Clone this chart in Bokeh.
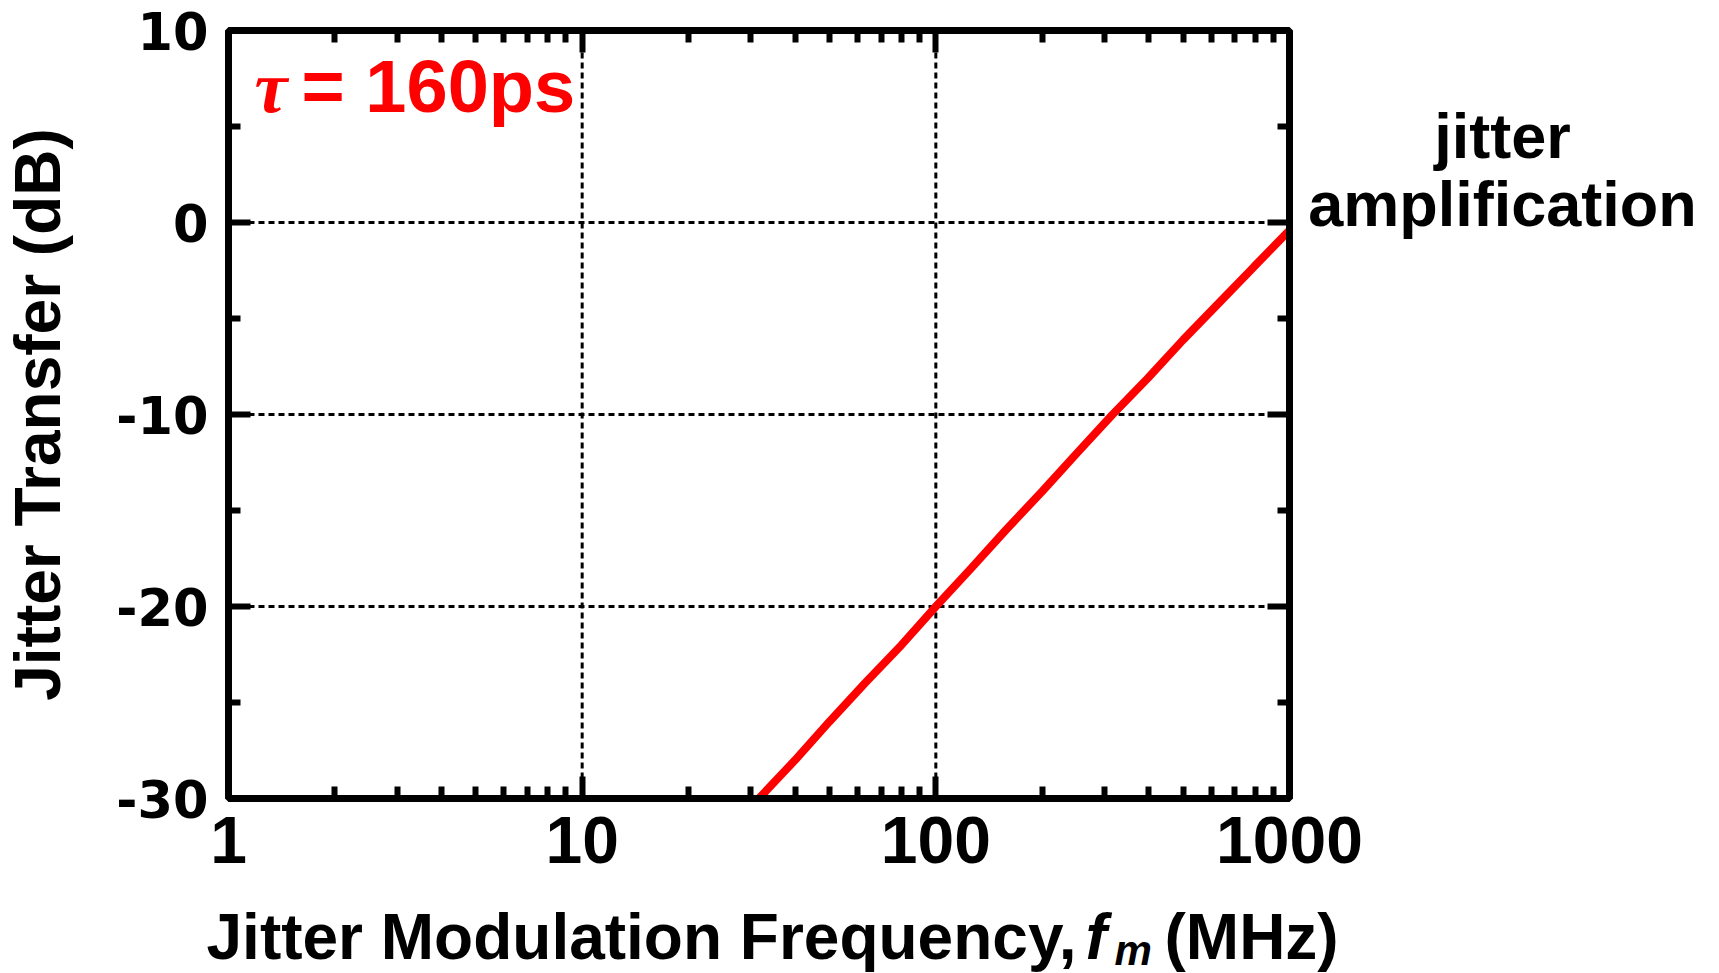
from bokeh.plotting import figure
from bokeh.models import (LogAxis, LinearAxis, FixedTicker, Label, Range1d,
                          PrintfTickFormatter, BoxAnnotation)
from bokeh.embed import file_html
from bokeh.resources import INLINE

# ---- data ----
freq_mhz = [31.6, 40, 50, 63, 80, 100, 126, 158, 200, 251, 316, 398, 501, 631, 794, 1000]
transfer_db = [-30.0, -28.0, -26.0, -24.0, -22.0, -20.0, -18.0, -16.0, -14.0, -12.0,
               -10.0, -8.1, -6.1, -4.2, -2.3, -0.4]

x_limits = [1, 1000]
y_limits = [-30, 10]
x_major_ticks = [1, 10, 100, 1000]
x_minor_ticks = [m * d for d in (1, 10, 100) for m in range(2, 10)]
y_major_ticks = [-30, -20, -10, 0, 10]
y_minor_ticks = [-25, -15, -5, 5]
x_grid_ticks = [10, 100]
y_grid_ticks = [-20, -10, 0]

tau_label = "= 160ps"
x_title_main = "Jitter Modulation Frequency,"
x_title_sym = "f"
x_title_sub = "m"
x_title_unit = "(MHz)"
y_title = "Jitter Transfer (dB)"
side_note = ["jitter", "amplification"]

# ---- layout: the drawing area fills the whole canvas; the visible box
# (x 1..1000, y -30..10) sits at these page pixels ----
W, H = 1716, 972
BL, BR, BT, BB = 228, 1289, 30, 798
PX_DEC = (BR - BL) / 3.0
PX_DB = (BB - BT) / 40.0

def dx(px):
    return 10 ** ((px - BL) / PX_DEC)

def dy(py):
    return 10 - (py - BT) / PX_DB

p = figure(width=W, height=H, x_axis_type="log",
           x_range=Range1d(dx(0), dx(W)), y_range=Range1d(dy(H), dy(0)),
           output_backend="svg", toolbar_location=None,
           min_border=0, min_border_left=0, min_border_right=0,
           min_border_top=0, min_border_bottom=0,
           background_fill_color="white", border_fill_color="white")
p.outline_line_color = None
p.grid.visible = False

def style_axis(ax):
    ax.axis_line_color = None
    ax.major_tick_in = 22
    ax.major_tick_out = 0
    ax.minor_tick_in = 12
    ax.minor_tick_out = 0
    ax.major_tick_line_width = 6
    ax.minor_tick_line_width = 6
    ax.major_tick_line_color = "black"
    ax.minor_tick_line_color = "black"

xa = p.xaxis[0]
xa.ticker = FixedTicker(ticks=x_major_ticks, minor_ticks=x_minor_ticks)
xa.formatter = PrintfTickFormatter(format="%d")
xa.fixed_location = y_limits[0]
xa.bounds = tuple(x_limits)
style_axis(xa)
xa.major_label_text_font = "Liberation Sans"
xa.major_label_text_font_style = "bold"
xa.major_label_text_font_size = "66px"
xa.major_label_text_color = "black"
xa.major_label_standoff = 18

ya = p.yaxis[0]
ya.ticker = FixedTicker(ticks=y_major_ticks, minor_ticks=y_minor_ticks)
ya.formatter = PrintfTickFormatter(format="%d")
ya.fixed_location = x_limits[0]
ya.bounds = tuple(y_limits)
style_axis(ya)
ya.major_label_text_font = "DejaVu Sans"
ya.major_label_text_font_style = "bold"
ya.major_label_text_font_size = "51px"
ya.major_label_text_color = "black"
ya.major_label_standoff = 20
ya.axis_label = y_title
ya.axis_label_text_font = "Liberation Sans"
ya.axis_label_text_font_style = "bold"
ya.axis_label_text_font_size = "64px"
ya.axis_label_text_color = "black"
ya.axis_label_standoff = 39

top = LogAxis(ticker=FixedTicker(ticks=x_major_ticks, minor_ticks=x_minor_ticks),
              fixed_location=y_limits[1], bounds=tuple(x_limits))
style_axis(top)
top.major_label_text_font_size = "1px"
top.major_label_text_color = None
top.major_label_standoff = 0
p.add_layout(top, "above")

right = LinearAxis(ticker=FixedTicker(ticks=y_major_ticks, minor_ticks=y_minor_ticks),
                   fixed_location=x_limits[1], bounds=tuple(y_limits))
style_axis(right)
right.major_label_text_font_size = "1px"
right.major_label_text_color = None
right.major_label_standoff = 0
p.add_layout(right, "right")

# dotted grid lines inside the box
p.segment(x0=x_grid_ticks, y0=[y_limits[0]] * len(x_grid_ticks),
          x1=x_grid_ticks, y1=[y_limits[1]] * len(x_grid_ticks),
          line_color="black", line_width=3, line_dash="6 4")
p.segment(x0=[x_limits[0]] * len(y_grid_ticks), y0=y_grid_ticks,
          x1=[x_limits[1]] * len(y_grid_ticks), y1=y_grid_ticks,
          line_color="black", line_width=3, line_dash="6 4")

p.line(freq_mhz, transfer_db, line_color="#ff0000", line_width=8)

# plot box
p.add_layout(BoxAnnotation(left=x_limits[0], right=x_limits[1],
                           bottom=y_limits[0], top=y_limits[1],
                           fill_color=None, fill_alpha=0,
                           line_color="black", line_width=7, line_alpha=1.0))

# tau annotation
p.add_layout(Label(x=1.184, y=7.08, text="τ", text_font="Liberation Serif",
                   text_font_style="bold italic", text_font_size="74px",
                   text_color="#ff0000", text_baseline="alphabetic"))
p.add_layout(Label(x=1.609, y=7.08, text=tau_label, text_font="Liberation Sans",
                   text_font_style="bold", text_font_size="74px",
                   text_color="#ff0000", text_baseline="alphabetic"))

def txt(px, py, text, size, style="bold", align="left"):
    p.add_layout(Label(x=dx(px), y=dy(py), text=text, text_font="Liberation Sans",
                       text_font_style=style, text_font_size=size,
                       text_color="black", text_align=align,
                       text_baseline="alphabetic"))

# right-side note
txt(1502, 135, side_note[0], "63px", align="center")
txt(1502, 203, side_note[1], "63px", align="center")

# x axis title with italic subscripted symbol
txt(1076, 936, x_title_main, "64px", align="right")
txt(1085, 936, x_title_sym, "64px", style="bold italic")
txt(1114, 950, x_title_sub, "42px", style="bold italic")
txt(1164, 936, x_title_unit, "64px")

open("out.html", "w").write(file_html(p, INLINE))
